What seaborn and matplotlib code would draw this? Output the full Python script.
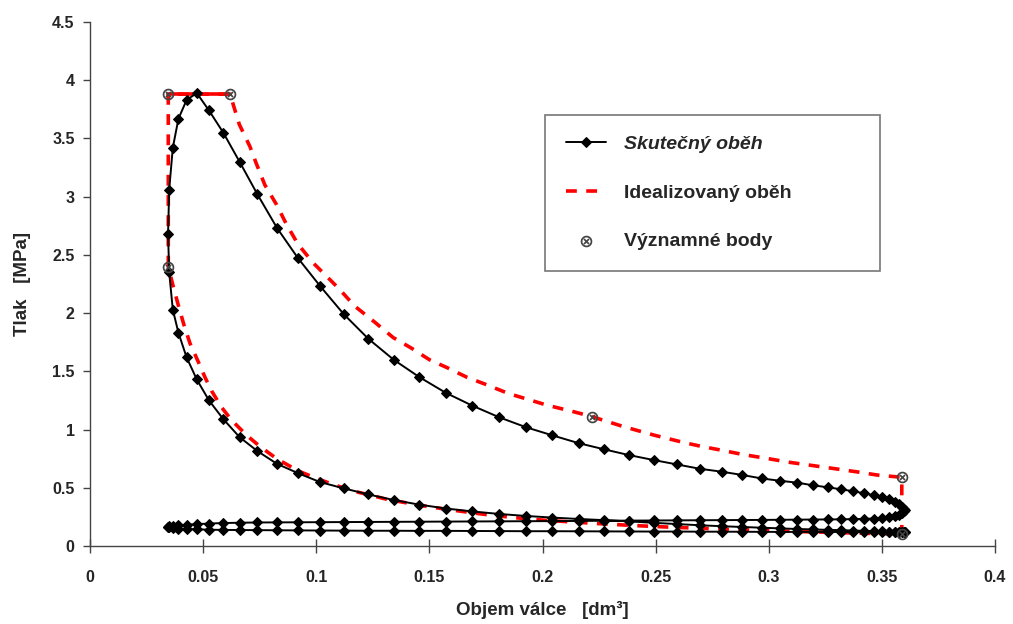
import matplotlib
matplotlib.use("Agg")
import matplotlib.pyplot as plt
import seaborn as sns

# crank positions (cylinder volume, dm3) from TDC to BDC
v_stroke = [0.0345, 0.0350, 0.0366, 0.0391, 0.0427, 0.0472, 0.0526, 0.0589, 0.0661, 0.0740,
            0.0827, 0.0920, 0.1018, 0.1122, 0.1230, 0.1342, 0.1456, 0.1573, 0.1690, 0.1809,
            0.1927, 0.2044, 0.2160, 0.2273, 0.2384, 0.2492, 0.2596, 0.2696, 0.2792, 0.2883,
            0.2969, 0.3050, 0.3126, 0.3196, 0.3261, 0.3320, 0.3374, 0.3421, 0.3463, 0.3500,
            0.3530, 0.3556, 0.3575, 0.3589, 0.3597, 0.3600]

# real cycle pressures [MPa]
p_intake = [0.165, 0.160, 0.155, 0.150, 0.146, 0.143, 0.140, 0.138, 0.137, 0.136,
            0.135, 0.134, 0.133, 0.132, 0.131, 0.131, 0.130, 0.130, 0.129, 0.128,
            0.127, 0.127, 0.126, 0.125, 0.125, 0.124, 0.124, 0.123, 0.123, 0.122,
            0.122, 0.121, 0.121, 0.121, 0.120, 0.120, 0.120, 0.120, 0.120, 0.120,
            0.120, 0.120, 0.120, 0.120, 0.120, 0.120]
# compression, BDC -> TDC
p_comp = [0.120, 0.120, 0.121, 0.122, 0.123, 0.124, 0.126, 0.128, 0.130, 0.132,
          0.135, 0.138, 0.142, 0.146, 0.151, 0.157, 0.163, 0.170, 0.178, 0.188,
          0.199, 0.211, 0.222, 0.232, 0.244, 0.258, 0.275, 0.297, 0.322, 0.355,
          0.395, 0.443, 0.495, 0.548, 0.625, 0.705, 0.815, 0.935, 1.09, 1.25,
          1.43, 1.62, 1.83, 2.03, 2.35]
# combustion + expansion, TDC -> BDC
p_exp = [2.68, 3.06, 3.42, 3.67, 3.83, 3.89, 3.74, 3.55, 3.30, 3.02,
         2.73, 2.47, 2.23, 1.99, 1.78, 1.60, 1.45, 1.315, 1.205, 1.105,
         1.02, 0.95, 0.883, 0.83, 0.78, 0.738, 0.70, 0.663, 0.638, 0.61,
         0.58, 0.56, 0.544, 0.521, 0.504, 0.487, 0.47, 0.453, 0.436, 0.42,
         0.40, 0.377, 0.357, 0.338, 0.32, 0.305]
# exhaust, BDC -> TDC
p_exh = [0.300, 0.283, 0.268, 0.256, 0.247, 0.241, 0.236, 0.233, 0.231, 0.229,
         0.228, 0.227, 0.226, 0.225, 0.224, 0.223, 0.222, 0.221, 0.220, 0.219,
         0.218, 0.217, 0.215, 0.214, 0.213, 0.212, 0.211, 0.210, 0.209, 0.208,
         0.207, 0.206, 0.205, 0.204, 0.203, 0.202, 0.200, 0.197, 0.193, 0.188,
         0.183, 0.177, 0.172, 0.168, 0.165]

# idealised cycle
v_ideal = [0.0346, 0.0346, 0.0619, 0.0660, 0.0707, 0.0734, 0.0773, 0.0825, 0.0869, 0.0920,
           0.0987, 0.1054, 0.1105, 0.1170, 0.1260, 0.1340, 0.1420, 0.1500, 0.1580, 0.1665,
           0.1746, 0.1849, 0.1900, 0.2019, 0.2144, 0.2220, 0.2269, 0.2350, 0.2423, 0.2497,
           0.2622, 0.2703, 0.2785, 0.2888, 0.2998, 0.3087, 0.3197, 0.3270, 0.3396, 0.3477,
           0.3588, 0.3588, 0.3450, 0.3300, 0.3150, 0.3000, 0.2850, 0.2700, 0.2550, 0.2400,
           0.2250, 0.2100, 0.1960, 0.1870, 0.1750, 0.1660, 0.1570, 0.1480, 0.1400, 0.1310,
           0.1240, 0.1164, 0.1080, 0.1002, 0.0920, 0.0825, 0.0751, 0.0693, 0.0626, 0.0582,
           0.0538, 0.0508, 0.0479, 0.0442, 0.0415, 0.0390, 0.0365, 0.0346]
p_ideal = [2.40, 3.88, 3.88, 3.62, 3.43, 3.29, 3.10, 2.93, 2.76, 2.59,
           2.43, 2.30, 2.20, 2.06, 1.92, 1.79, 1.70, 1.60, 1.53, 1.45,
           1.39, 1.31, 1.28, 1.21, 1.15, 1.11, 1.08, 1.03, 0.99, 0.95,
           0.89, 0.855, 0.825, 0.785, 0.75, 0.72, 0.69, 0.67, 0.635, 0.61,
           0.59, 0.103, 0.108, 0.115, 0.123, 0.132, 0.142, 0.152, 0.163, 0.176,
           0.192, 0.210, 0.228, 0.245, 0.270, 0.293, 0.317, 0.343, 0.370, 0.402,
           0.436, 0.472, 0.525, 0.580, 0.645, 0.750, 0.855, 0.950, 1.080, 1.190,
           1.330, 1.450, 1.580, 1.740, 1.900, 2.070, 2.250, 2.400]

# significant points
v_key = [0.0346, 0.0619, 0.2220, 0.3588, 0.3588, 0.0346]
p_key = [3.88, 3.88, 1.11, 0.59, 0.103, 2.40]

x_ticks = [0, 0.05, 0.1, 0.15, 0.2, 0.25, 0.3, 0.35, 0.4]
x_labels = ["0", "0.05", "0.1", "0.15", "0.2", "0.25", "0.3", "0.35", "0.4"]
y_ticks = [0, 0.5, 1, 1.5, 2, 2.5, 3, 3.5, 4, 4.5]
y_labels = ["0", "0.5", "1", "1.5", "2", "2.5", "3", "3.5", "4", "4.5"]

# whole real cycle in drawing order: intake, compression, expansion, exhaust
v_real = v_stroke + v_stroke[::-1][:-1] + v_stroke + v_stroke[::-1][1:]
p_real = p_intake + p_comp + p_exp + p_exh

sns.set_style("ticks")
plt.rcParams["font.family"] = ["Liberation Sans", "DejaVu Sans"]
plt.rcParams["font.weight"] = "bold"

fig = plt.figure(figsize=(10.13, 6.24), dpi=100)
ax = fig.add_axes([90 / 1013, 1 - 546 / 624, 905 / 1013, 524 / 624])

sns.lineplot(x=v_ideal, y=p_ideal, sort=False, estimator=None, ax=ax,
             color="#ff0000", linewidth=2.6, linestyle=(0, (3, 2.6)),
             label="Idealizovaný oběh", zorder=2)
# top isobar looks solid in the original
sns.lineplot(x=v_ideal[1:3], y=p_ideal[1:3], sort=False, estimator=None, ax=ax,
             color="#ff0000", linewidth=2.6, zorder=2, legend=False)
sns.lineplot(x=v_real, y=p_real, sort=False, estimator=None, ax=ax,
             color="black", linewidth=1.4, marker="D", markersize=5.5,
             markeredgecolor="black", label="Skutečný oběh", zorder=3)
sns.scatterplot(x=v_key, y=p_key, ax=ax, marker=r"$\otimes$", s=70,
                color="#444444", linewidth=0, label="Významné body", zorder=4)

ax.set_xlim(0, 0.4)
ax.set_ylim(0, 4.5)
ax.set_xticks(x_ticks)
ax.set_xticklabels(x_labels)
ax.set_yticks(y_ticks)
ax.set_yticklabels(y_labels)
ax.tick_params(axis="x", direction="inout", length=10, width=1, pad=12,
               labelsize=11.5, color="#444444")
ax.tick_params(axis="y", direction="out", length=5, width=1, pad=6,
               labelsize=11.5, color="#444444")
for lab in ax.get_xticklabels() + ax.get_yticklabels():
    lab.set_fontweight("bold")

sns.despine(ax=ax)
for s in ["left", "bottom"]:
    ax.spines[s].set_color("#444444")
    ax.spines[s].set_linewidth(1)

ax.set_xlabel("Objem válce   [dm³]", fontsize=13.5, fontweight="bold")
ax.set_ylabel("Tlak   [MPa]", fontsize=13.5, fontweight="bold")
ax.xaxis.set_label_coords(0.5, -(601 - 546) / 524)
ax.yaxis.set_label_coords(-(90 - 31) / 905, 0.5)

handles, labels = ax.get_legend_handles_labels()
order = [labels.index(n) for n in ["Skutečný oběh", "Idealizovaný oběh", "Významné body"]]
leg = ax.legend([handles[i] for i in order], [labels[i] for i in order],
                loc="upper left", bbox_to_anchor=(0.503, 0.53, 0.37, 0.2925),
                mode="expand", fontsize=14, frameon=True, fancybox=False,
                edgecolor="#777777", framealpha=1, borderpad=1.05,
                labelspacing=1.6, handlelength=2.1, handletextpad=0.9,
                borderaxespad=0)
leg.get_frame().set_linewidth(1.2)
texts = leg.get_texts()
for t in texts:
    t.set_fontweight("bold")
texts[0].set_style("italic")

fig.savefig("out.png", dpi=100)
